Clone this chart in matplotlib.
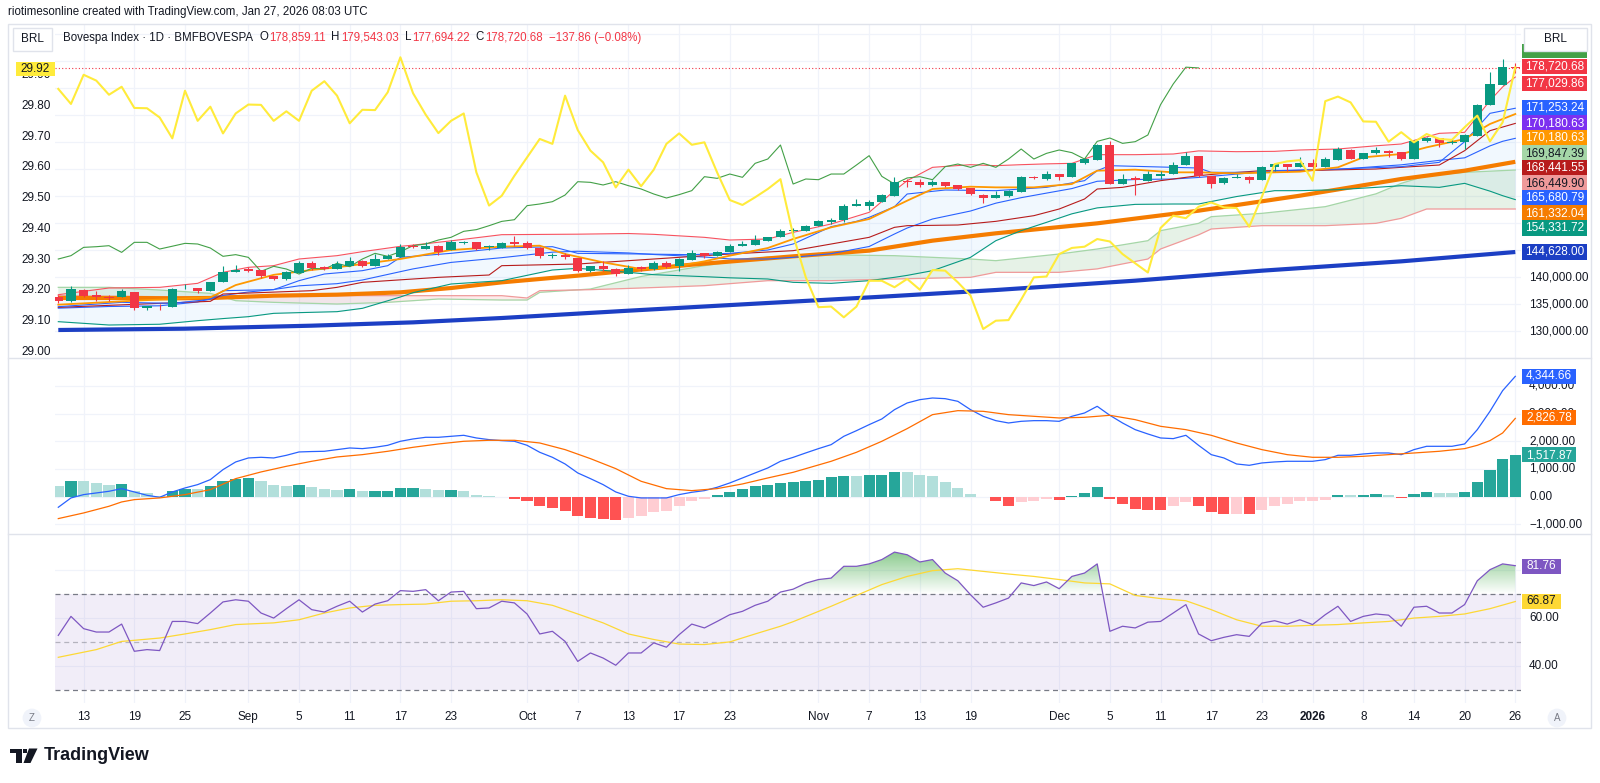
import matplotlib
matplotlib.use("Agg")
import matplotlib.pyplot as plt
import matplotlib.transforms as mtransforms
import numpy as np
import pandas as pd
from matplotlib.colors import LinearSegmentedColormap
from matplotlib.patches import Polygon, Rectangle
from matplotlib.path import Path

W, H = 1600, 783
plt.rcParams["font.family"] = ["Liberation Sans", "DejaVu Sans"]

# ---- dates / ticks -------------------------------------------------------
HOLIDAYS = ["2025-11-20", "2025-12-24", "2025-12-25", "2025-12-31", "2026-01-01"]
DATES = pd.bdate_range("2025-08-11", "2026-01-26").drop(pd.to_datetime(HOLIDAYS))
TICK_DATES = ["2025-08-13", "2025-08-19", "2025-08-25", "2025-09-01", "2025-09-05",
              "2025-09-11", "2025-09-17", "2025-09-23", "2025-10-01", "2025-10-07",
              "2025-10-13", "2025-10-17", "2025-10-23", "2025-11-03", "2025-11-07",
              "2025-11-13", "2025-11-19", "2025-12-01", "2025-12-05", "2025-12-11",
              "2025-12-17", "2025-12-23", "2026-01-02", "2026-01-08", "2026-01-14",
              "2026-01-20", "2026-01-26"]
TICK_LABELS = ["13", "19", "25", "Sep", "5", "11", "17", "23", "Oct", "7", "13", "17",
               "23", "Nov", "7", "13", "19", "Dec", "5", "11", "17", "23", "2026", "8",
               "14", "20", "26"]

# ---- Bovespa daily candles -----------------------------------------------
OPEN = [136360, 135500, 137650, 136720, 136360, 136230, 137280, 134260, 134500, 134380,
        137900, 137900, 137470, 139010, 140860, 141480, 141300, 140250, 139630, 140680,
        142590, 141790, 141480, 142100, 143030, 141980, 143260, 143640, 145700, 145180,
        145800, 144990, 146250, 146420, 145500, 145370, 146420, 146230, 145370, 143830,
        144140, 143450, 141170, 142100, 141480, 140550, 141790, 141480, 142530, 141980,
        143150, 144380, 143830, 144560, 145690, 145980, 146730, 147340, 148580, 148580,
        149500, 150120, 150610, 153210, 153090, 153950, 155060, 157800, 157650, 157040,
        157530, 157040, 156480, 155250, 154630, 155060, 155800, 158460, 158150, 159070,
        158580, 161050, 161670, 164440, 157220, 158270, 157840, 158770, 159070, 160740,
        162400, 158640, 157340, 158270, 158580, 158020, 160430, 160920, 160430, 161050,
        160310, 161670, 163520, 161850, 162900, 163400, 163090, 161850, 165250, 165680,
        164880, 164940, 166170, 171850, 175620, 178859.11]
HIGH = [136720, 138390, 137780, 137340, 136720, 137780, 137280, 134690, 135000, 137960,
        138700, 137900, 139010, 142100, 142280, 141900, 141300, 140250, 141100, 143030,
        143030, 142100, 142900, 143770, 143100, 144260, 144260, 146110, 146200, 146420,
        145900, 146850, 146600, 146420, 146000, 146400, 147650, 146600, 145500, 144400,
        144380, 143450, 142100, 143030, 141700, 142280, 142100, 142900, 143000, 143500,
        145000, 144500, 144900, 146110, 146720, 147840, 147500, 148890, 149080, 149700,
        150550, 150900, 153520, 154450, 154200, 155300, 158450, 158150, 158150, 157900,
        157600, 157100, 156500, 155300, 155990, 156200, 158700, 158700, 159690, 159070,
        161050, 162000, 164600, 165120, 159070, 158770, 159690, 159690, 161230, 163090,
        162500, 158700, 158500, 159070, 158650, 160500, 161000, 161000, 162160, 161850,
        162160, 164130, 163700, 163000, 164130, 163450, 163200, 165300, 165860, 165800,
        165560, 166400, 172000, 177900, 180300, 179543.03]
LOW = [135240, 135400, 136230, 135500, 135500, 136230, 133890, 133890, 133890, 134380,
       137840, 136970, 137470, 139010, 140860, 140860, 139750, 139380, 139380, 140680,
       141360, 141300, 141480, 142100, 141900, 141980, 143260, 143640, 145300, 145180,
       144070, 144990, 146100, 145000, 145000, 145300, 145800, 145100, 143600, 143600,
       143330, 140860, 141000, 141170, 140120, 140550, 141170, 141300, 141600, 141170,
       143150, 143600, 143830, 144560, 145690, 145980, 146700, 147340, 147650, 148580,
       149500, 149900, 150120, 153100, 152400, 153950, 155060, 156600, 156600, 156800,
       156600, 156100, 155200, 153700, 154630, 154800, 155800, 158100, 157960, 157960,
       158580, 161000, 161670, 157220, 157220, 155250, 157840, 158150, 159070, 160740,
       158500, 156480, 157200, 158270, 157340, 158020, 159690, 159690, 160430, 159690,
       160310, 161670, 161800, 161800, 162780, 162280, 161700, 161850, 164940, 164000,
       164630, 163700, 166170, 171850, 175620, 177694.22]
CLOSE = [135500, 137780, 136540, 136230, 136110, 137340, 134200, 134570, 134380, 137780,
         137960, 137340, 139010, 140860, 141300, 141170, 140120, 139630, 140860, 142590,
         141670, 141480, 142400, 143030, 142100, 143330, 143950, 145490, 145610, 145800,
         144560, 146420, 146420, 145180, 145700, 146230, 146110, 145370, 143830, 144140,
         143640, 141050, 141980, 141480, 140550, 141610, 141480, 142530, 141910, 143330,
         144380, 143830, 144690, 145800, 146110, 146850, 147350, 148460, 148770, 149500,
         150300, 150610, 153210, 153520, 153950, 155180, 157650, 157530, 157040, 157650,
         156910, 156300, 155370, 154630, 155250, 155990, 158580, 158270, 159070, 158460,
         161050, 161850, 164440, 157220, 158150, 158020, 159070, 159070, 160740, 162470,
         158640, 157220, 158340, 158580, 158020, 160430, 160920, 160310, 161050, 160310,
         161850, 163700, 161850, 162900, 163520, 163030, 161850, 165120, 165740, 164750,
         165060, 166300, 171910, 175740, 178858.54, 178720.68]

# ---- overlay symbol on the left scale ------------------------------------
LEFT_SERIES = [29.856, 29.807, 29.902, 29.883, 29.837, 29.863, 29.794, 29.793, 29.763, 29.695,
               29.850, 29.752, 29.798, 29.711, 29.776, 29.805, 29.804, 29.752, 29.783, 29.752,
               29.850, 29.881, 29.834, 29.744, 29.788, 29.787, 29.845, 29.959, 29.842, 29.772,
               29.712, 29.752, 29.776, 29.584, 29.476, 29.508, 29.573, 29.633, 29.693, 29.677,
               29.834, 29.722, 29.655, 29.617, 29.535, 29.593, 29.539, 29.593, 29.677, 29.711,
               29.674, 29.682, 29.584, 29.494, 29.478, 29.503, 29.530, 29.562, 29.380, 29.242,
               29.145, 29.147, 29.112, 29.147, 29.231, 29.231, 29.210, 29.237, 29.202, 29.266,
               29.264, 29.226, 29.183, 29.074, 29.101, 29.103, 29.170, 29.242, 29.245, 29.318,
               29.338, 29.342, 29.367, 29.359, 29.318, 29.288, 29.258, 29.403, 29.443, 29.435,
               29.472, 29.486, 29.470, 29.468, 29.407, 29.505, 29.611, 29.620, 29.624, 29.557,
               29.816, 29.831, 29.812, 29.750, 29.749, 29.684, 29.715, 29.682, 29.709, 29.693,
               29.690, 29.731, 29.769, 29.685, 29.747, 29.926]

# ---- moving averages -------------------------------------------------------
SMA200_X = [0, 10, 20, 28, 35, 45, 55, 65, 74, 85, 95, 106, 115]
SMA200 = [130186, 130430, 130985, 131600, 132406, 133760, 135060, 136350, 137590, 139320,
          141170, 142900, 144628]
SMA50_X = [0, 6, 9, 12, 17, 22, 27, 31, 35, 41, 45, 50, 58, 64, 69, 74, 82, 90, 98, 106,
           111, 115]
SMA50 = [136110, 136110, 136050, 136110, 136540, 136730, 137160, 137960, 139010, 140250,
         141170, 142280, 143830, 144880, 146730, 148090, 149940, 152280, 155060, 158150,
         159690, 161332]
EMA_X = [0, 6, 12, 14, 17, 20, 22, 27, 31, 35, 38, 40, 43, 46, 48, 51, 53, 56, 58, 61, 64,
         67, 69, 72, 74, 77, 80, 82, 85, 88, 90, 93, 96, 98, 101, 103, 106, 108, 111, 113, 115]
EMA = [134875, 135612, 136234, 138500, 140400, 141300, 141790, 143333, 145000, 145616,
       145801, 144258, 142715, 141480, 141667, 142900, 143950, 145370, 147030, 149197,
       150740, 154135, 156293, 156725, 156600, 156600, 157222, 159690, 159876, 159382,
       159382, 159196, 159382, 159505, 160308, 162160, 162777, 164012, 165555, 168334,
       170181]

# ---- Bollinger bands -------------------------------------------------------
BB_X = [0, 4, 8, 11, 13, 15, 17, 19, 22, 24, 27, 28, 31, 35, 39, 41, 45, 47, 51, 53, 56, 58,
        61, 64, 66, 67, 69, 72, 74, 76, 78, 80, 82, 85, 88, 90, 93, 96, 98, 101, 104, 106,
        109, 111, 113, 114, 115]
BB_UPPER = [136727, 137962, 138085, 138826, 140863, 141790, 142098, 143333, 143950, 144691,
            145678, 145900, 146700, 147838, 147900, 147930, 148050, 147900, 147344, 146850,
            147035, 148270, 149814, 151975, 155987, 157839, 160309, 160800, 160617, 160800,
            160950, 161049, 162654, 162654, 162777, 163350, 163210, 163271, 163518, 163703,
            164300, 164630, 166605, 166790, 172654, 175200, 177030]
BB_LOWER = [131727, 131110, 131250, 131913, 132300, 132653, 133270, 133400, 133580, 134197,
            136300, 137099, 138704, 139320, 141297, 141605, 140864, 140432, 140062, 139850,
            139630, 139010, 138826, 139320, 139940, 140300, 141170, 143640, 146727, 148580,
            150123, 151700, 152800, 153450, 153518, 153518, 154900, 155987, 155987, 156172,
            156600, 156908, 156600, 157345, 155900, 155060, 154332]
BB_BASIS = [134227, 134536, 134668, 135370, 136582, 137222, 137684, 138367, 138765, 139444,
            140989, 141500, 142702, 143579, 144599, 144768, 144457, 144166, 143703, 143350,
            143333, 143640, 144320, 145648, 147964, 149070, 150740, 152220, 153672, 154690,
            155537, 156375, 157727, 158052, 158148, 158434, 159055, 159629, 159753, 159938,
            160450, 160769, 161603, 162068, 164277, 165130, 165681]

# ---- Ichimoku ----------------------------------------------------------------
TENKAN_X = [0, 5, 9, 12, 13, 17, 19, 21, 24, 26, 27, 31, 35, 39, 41, 46, 50, 53, 56, 58, 61,
            63, 64, 66, 67, 70, 74, 78, 81, 82, 83, 88, 90, 91, 95, 96, 101, 106, 109, 111,
            113, 115]
TENKAN = [134505, 135307, 135122, 135863, 137468, 137653, 139320, 140554, 141172, 142097,
          143641, 144382, 145369, 145616, 144382, 144258, 144135, 144382, 144999, 146110,
          149320, 150308, 151049, 153024, 155370, 156110, 155987, 156604, 157839, 159691,
          160617, 160309, 160185, 159382, 159382, 159691, 159999, 160432, 161234, 165061,
          170308, 171253]
KIJUN_X = [0, 12, 13, 20, 22, 24, 26, 30, 34, 35, 41, 51, 53, 58, 61, 64, 66, 67, 71, 74,
           77, 79, 81, 82, 84, 87, 90, 92, 95, 98, 104, 106, 109, 111, 113, 115]
KIJUN = [134381, 135493, 136851, 137468, 138085, 139011, 139320, 139937, 140369, 142097,
         142406, 143950, 144258, 144876, 146110, 147345, 149197, 149505, 149628, 150308,
         151357, 152592, 154444, 156295, 156604, 157839, 158765, 159197, 159691, 159691,
         159999, 160309, 160740, 163395, 167098, 168442]
CLOUD_X = [0, 4, 8, 12, 14, 17, 22, 26, 30, 35, 37, 38, 42, 46, 51, 56, 61, 66, 72, 74, 79,
           82, 86, 87, 90, 91, 95, 100, 104, 106, 108, 111, 115]
SENKOU_A = [138085, 138085, 137591, 136974, 135616, 135307, 134999, 135307, 135925, 135740,
            135740, 137159, 137777, 140100, 142097, 143700, 144100, 143950, 143332, 143024,
            144258, 145184, 146727, 148579, 149937, 151172, 151789, 153024, 155400, 157345,
            158765, 159382, 159814]
SENKOU_B = [136542, 136450, 136357, 136233, 136542, 136542, 136542, 136542, 136542, 136542,
            136110, 137468, 137653, 137962, 138394, 139320, 139320, 139628, 139937, 140864,
            140864, 141500, 143332, 145184, 147800, 148888, 149505, 149505, 149937, 150864,
            152592, 152592, 152592]
CHIKOU_SHIFT = 25

# ---- MACD ------------------------------------------------------------------
MACD = [-382, -45, 75, 135, 195, 291, 171, 50, -22, 171, 315, 436, 616, 977, 1254, 1398,
        1422, 1398, 1494, 1615, 1630, 1639, 1699, 1759, 1735, 1783, 1855, 2000, 2084, 2144,
        2144, 2180, 2216, 2120, 2060, 2024, 2000, 1855, 1603, 1422, 1181, 857, 652, 436, 171,
        15, -45, -45, -45, 75, 159, 219, 339, 496, 676, 857, 1037, 1278, 1420, 1580, 1735,
        1879, 2180, 2384, 2601, 2806, 3142, 3383, 3503, 3563, 3539, 3443, 3142, 2902, 2745,
        2661, 2721, 2745, 2745, 2721, 2902, 3022, 3263, 2938, 2661, 2420, 2264, 2120, 2096,
        2216, 1855, 1518, 1398, 1181, 1133, 1218, 1254, 1278, 1278, 1278, 1338, 1494, 1494,
        1542, 1578, 1578, 1518, 1699, 1819, 1819, 1819, 1903, 2420, 3082, 3828, 4344.66]
SIGNAL_X = [0, 2, 4, 5, 6, 8, 10, 12, 14, 16, 18, 20, 22, 24, 26, 28, 30, 32, 34, 36, 38, 40,
            42, 44, 46, 48, 50, 52, 54, 56, 58, 61, 63, 65, 67, 69, 71, 73, 75, 77, 79, 81,
            83, 85, 87, 89, 91, 93, 95, 97, 99, 101, 103, 105, 107, 109, 111, 112, 113, 114,
            115]
SIGNAL = [-791, -587, -346, -190, -106, -45, 75, 255, 652, 893, 1097, 1278, 1434, 1518, 1639,
          1783, 1903, 2000, 2036, 2036, 1939, 1699, 1374, 1013, 556, 291, 219, 291, 460, 676,
          880, 1278, 1603, 2000, 2457, 2962, 3106, 3082, 2962, 2902, 2842, 2866, 2938, 2781,
          2541, 2420, 2216, 1939, 1699, 1518, 1422, 1422, 1458, 1518, 1578, 1639, 1735, 1855,
          2024, 2300, 2826.78]
HIST = [375, 556, 556, 496, 436, 460, 219, 135, 15, 195, 291, 291, 400, 556, 652, 660, 556,
        436, 400, 424, 351, 291, 255, 262, 195, 200, 205, 303, 310, 291, 231, 240, 195, 75, 15,
        -15, -70, -165, -350, -405, -503, -707, -767, -803, -828, -767, -683, -563, -503,
        -347, -140, -68, 75, 171, 279, 375, 436, 496, 520, 556, 616, 700, 736, 736, 772, 796,
        893, 893, 796, 736, 532, 315, 99, -22, -166, -322, -190, -142, -82, -106, 15, 135,
        339, -70, -262, -430, -466, -470, -346, -190, -346, -551, -623, -623, -630, -466,
        -346, -262, -166, -166, -106, 50, 50, 75, 99, 75, -46, 97, 180, 144, 130, 180, 541,
        964, 1350, 1517.87]

# ---- RSI -------------------------------------------------------------------
RSI = [52.8, 60.7, 55.6, 54.2, 54.2, 57.5, 46.2, 46.9, 46.5, 58.6, 58.6, 57.7, 62.1, 66.7,
       67.6, 67.0, 62.1, 60.0, 63.9, 67.6, 63.5, 62.5, 64.9, 67.0, 62.5, 65.8, 67.2, 71.4,
       71.1, 71.8, 67.2, 70.8, 71.1, 63.9, 64.2, 67.0, 66.3, 61.7, 53.4, 54.5, 50.3, 42.0,
       45.5, 43.4, 40.4, 45.5, 45.5, 49.7, 47.9, 53.1, 57.5, 55.9, 58.6, 61.4, 62.8, 65.3,
       67.0, 70.8, 72.0, 74.5, 76.0, 76.6, 81.5, 81.5, 82.5, 84.3, 87.4, 86.3, 83.3, 84.3,
       78.7, 75.5, 69.7, 64.5, 66.3, 68.3, 74.6, 73.5, 75.0, 72.2, 77.3, 78.7, 82.5, 54.5,
       56.6, 55.9, 58.3, 58.6, 62.1, 65.6, 53.4, 50.6, 52.0, 53.1, 52.4, 57.9, 58.9, 57.5,
       59.3, 57.3, 61.4, 64.9, 58.6, 60.7, 61.7, 61.2, 56.6, 64.5, 64.9, 62.1, 62.1, 65.6,
       75.5, 80.1, 82.5, 81.76]
RSI_MA_X = [0, 3, 5, 8, 10, 12, 14, 17, 19, 21, 23, 25, 27, 29, 31, 33, 35, 37, 39, 41, 43,
            45, 47, 49, 51, 53, 55, 57, 58, 61, 63, 65, 67, 69, 71, 73, 75, 77, 79, 81, 83,
            85, 87, 89, 91, 93, 95, 97, 99, 101, 103, 105, 107, 109, 111, 113, 115]
RSI_MA = [43.7, 46.9, 50.3, 51.7, 53.4, 55.2, 57.3, 58.0, 59.3, 62.1, 64.2, 65.3, 65.6, 65.8,
          67.0, 67.2, 67.6, 67.2, 65.3, 61.7, 58.0, 53.4, 51.1, 49.2, 49.0, 50.1, 53.4, 56.6,
          58.5, 64.9, 69.4, 73.9, 77.3, 79.7, 80.5, 79.4, 78.3, 77.3, 76.0, 74.6, 74.2, 69.4,
          68.1, 67.2, 63.5, 59.3, 56.6, 56.6, 57.0, 57.3, 58.0, 58.6, 60.0, 60.7, 61.7, 63.9,
          66.87]

# ---- layout ----------------------------------------------------------------
TEXT = "#131722"
GRID = "#f0f3fa"
SEP = "#e0e3eb"
GREEN, RED = "#089981", "#f23645"
PLOT_L, PLOT_R = 55, 1521
MAIN_T, MAIN_B, MACD_B, RSI_B = 24, 358, 534, 703
XLIM = (-0.26, 115.45)
FS = 8.5


def fx(px):
    return px / W


def fy(py):
    return 1 - py / H


fig = plt.figure(figsize=(W / 100, H / 100), dpi=100)
fig.patch.set_facecolor("white")
renderer = fig.canvas.get_renderer()
x = np.arange(len(DATES))
tick_idx = [DATES.get_loc(pd.Timestamp(d)) for d in TICK_DATES]


def pane(bottom, top, ylim, yticks):
    ax = fig.add_axes([fx(PLOT_L), fy(bottom), (PLOT_R - PLOT_L) / W, (bottom - top) / H])
    ax.set_facecolor("none")
    for spine in ax.spines.values():
        spine.set_visible(False)
    ax.tick_params(length=0, labelbottom=False, labelleft=False)
    ax.set_xlim(*XLIM)
    ax.set_ylim(*ylim)
    ax.set_xticks(tick_idx)
    ax.set_yticks(yticks)
    ax.grid(True, color=GRID, lw=0.9)
    ax.set_axisbelow(True)
    return ax


def fig_rect(x0, y0, x1, y1, fc, ec="none", lw=0.0, z=10):
    fig.patches.append(Rectangle((fx(x0), fy(y1)), (x1 - x0) / W, (y1 - y0) / H,
                                 transform=fig.transFigure, fc=fc, ec=ec, lw=lw, zorder=z))


def value_label(y, text, fc, tc="white", x0=1522, x1=1587):
    fig_rect(x0, y - 7.5, x1, y + 7.5, fc, z=20)
    fig.text(fx((x0 + x1) / 2), fy(y), text, ha="center", va="center", fontsize=FS,
             color=tc, zorder=21)


# ---- main price pane -------------------------------------------------------
ax = pane(MAIN_B, MAIN_T, (125000, 186853), np.arange(125000, 190000, 5000))
ax.fill_between(BB_X, BB_LOWER, BB_UPPER, color="#2196f3", alpha=0.06, lw=0, zorder=1)
sa, sb = np.array(SENKOU_A), np.array(SENKOU_B)
ax.fill_between(CLOUD_X, sa, sb, where=sa >= sb, interpolate=True, color="#43a047",
                alpha=0.13, lw=0, zorder=1)
ax.fill_between(CLOUD_X, sa, sb, where=sa < sb, interpolate=True, color="#f44336",
                alpha=0.10, lw=0, zorder=1)
ax.plot(CLOUD_X, SENKOU_A, color="#a5d6a7", lw=0.9, zorder=2)
ax.plot(CLOUD_X, SENKOU_B, color="#ef9a9a", lw=0.9, zorder=2)
ax.plot(SMA200_X, SMA200, color="#1c3fc4", lw=3.0, zorder=3, solid_capstyle="butt")
ax.plot(SMA50_X, SMA50, color="#f57c00", lw=3.0, zorder=3, solid_capstyle="butt")
ax.plot(BB_X, BB_LOWER, color=GREEN, lw=0.8, zorder=3)
ax.plot(BB_X, BB_UPPER, color="#f7525f", lw=0.8, zorder=3)
ax.plot(BB_X, BB_BASIS, color="#2962ff", lw=0.8, zorder=3)
ax.plot(KIJUN_X, KIJUN, color="#b71c1c", lw=0.8, zorder=3)
ax.plot(TENKAN_X, TENKAN, color="#2962ff", lw=0.8, zorder=3)
ax.plot(EMA_X, EMA, color="#ff9800", lw=1.3, zorder=3)
close = np.array(CLOSE)
ax.plot(x[CHIKOU_SHIFT:] - CHIKOU_SHIFT, close[CHIKOU_SHIFT:], color="#43a047", lw=0.8,
        zorder=3)

o, h, l = np.array(OPEN), np.array(HIGH), np.array(LOW)
col = np.where(close >= o, GREEN, RED)
ax.vlines(x, l, h, colors=col, lw=0.8, zorder=5)
ax.bar(x, np.maximum(np.abs(close - o), 130), bottom=np.minimum(o, close), width=0.72,
       color=col, lw=0, zorder=6)
ax.axhline(CLOSE[-1], color=RED, lw=0.8, ls=(0, (1, 2)), zorder=4)

axl = fig.add_axes(ax.get_position())
axl.set_facecolor("none")
axl.axis("off")
axl.set_xlim(*XLIM)
axl.set_ylim(28.9795, 30.0674)
axl.plot(x, LEFT_SERIES, color="#ffeb3b", lw=1.5, zorder=7)

# left scale labels
left_tr = mtransforms.blended_transform_factory(fig.transFigure, axl.transData)
for v in np.arange(29.0, 29.95, 0.1):
    fig.text(fx(21), v, f"{v:.2f}", transform=left_tr, va="center", ha="left",
             fontsize=FS, color=TEXT)
fig_rect(16, 61.5, 55, 75.5, "#ffeb3b", z=20)
fig.text(fx(35.5), fy(68.5), "29.92", ha="center", va="center", fontsize=FS, color=TEXT,
         zorder=21)

# right scale ticks
main_tr = mtransforms.blended_transform_factory(fig.transFigure, ax.transData)
for v in (140000, 135000, 130000):
    fig.text(fx(1529), v, f"{v:,.2f}", transform=main_tr, va="center", fontsize=FS,
             color=TEXT)
fig_rect(1522, 44, 1587, 58, "#43a047", z=20)
for y, txt, fc, tc in [
    (66.7, "178,720.68", RED, "white"), (83.3, "177,029.86", RED, "white"),
    (108, "171,253.24", "#2962ff", "white"), (123, "170,180.63", "#7c30f0", "white"),
    (138, "170,180.63", "#ff9800", "white"), (153, "169,847.39", "#a5d6a7", TEXT),
    (168, "168,441.55", "#b71c1c", "white"), (183, "166,449.90", "#ef9a9a", TEXT),
    (198, "165,680.79", "#2962ff", "white"), (213, "161,332.04", "#f57c00", "white"),
    (228, "154,331.72", GREEN, "white"), (252, "144,628.00", "#1c3fc4", "white"),
]:
    value_label(y, txt, fc, tc)

# ---- MACD pane ---------------------------------------------------------------
axm = pane(MACD_B, MAIN_B, (-1347, 5007), np.arange(-1000, 5000, 1000))
hist = np.array(HIST)
prev = np.r_[hist[0], hist[:-1]]
hcol = np.where(hist >= 0, np.where(hist > prev, "#26a69a", "#b2dfdb"),
                np.where(hist < prev, "#ff5252", "#ffcdd2"))
axm.bar(x, hist, width=0.88, color=hcol, lw=0, zorder=2)
axm.plot(x, MACD, color="#2962ff", lw=0.9, zorder=3)
axm.plot(SIGNAL_X, SIGNAL, color="#ff6d00", lw=0.9, zorder=3)
macd_tr = mtransforms.blended_transform_factory(fig.transFigure, axm.transData)
for v in range(4000, -2000, -1000):
    txt = f"{v:,.2f}".replace("-", "\u2212")
    fig.text(fx(1529), v, txt, transform=macd_tr, va="center", fontsize=FS, color=TEXT)
value_label(376, "4,344.66", "#2962ff", x1=1576)
value_label(418, "2,826.78", "#ff6d00", x1=1576)
value_label(455, "1,517.87", "#26a69a", x1=1576)

# ---- RSI pane --------------------------------------------------------------
axr = pane(RSI_B, MACD_B, (24.72, 94.92), [20, 40, 60, 80])
axr.axhspan(30, 70, color="#7e57c2", alpha=0.1, lw=0, zorder=1)
for lvl, a in ((70, 1.0), (50, 0.5), (30, 1.0)):
    axr.axhline(lvl, color="#787b86", lw=0.9, alpha=a, dashes=(4, 3), zorder=2)
rsi = np.array(RSI)
ob = axr.fill_between(x, 70, rsi, where=rsi > 70, interpolate=True, color="none", lw=0)
clip = Path.make_compound_path(*ob.get_paths())
cmap = LinearSegmentedColormap.from_list(
    "ob", [(0.298, 0.686, 0.314, 0.0), (0.298, 0.686, 0.314, 0.75)])
grad = axr.imshow(np.linspace(0, 1, 256).reshape(-1, 1), extent=[XLIM[0], XLIM[1], 70, 90],
                  origin="lower", cmap=cmap, aspect="auto", zorder=2)
grad.set_clip_path(clip, transform=axr.transData)
axr.set_xlim(*XLIM)
axr.set_ylim(24.72, 94.92)
axr.plot(RSI_MA_X, RSI_MA, color="#fdd835", lw=0.9, zorder=3)
axr.plot(x, RSI, color="#7e57c2", lw=0.9, zorder=4)
rsi_tr = mtransforms.blended_transform_factory(fig.transFigure, axr.transData)
for v in (60, 40):
    fig.text(fx(1529), v, f"{v:.2f}", transform=rsi_tr, va="center", fontsize=FS, color=TEXT)
value_label(566, "81.76", "#7e57c2", x1=1561)
value_label(601, "66.87", "#fdd835", TEXT, x1=1561)

# ---- time axis ---------------------------------------------------------------
time_tr = mtransforms.blended_transform_factory(axr.transData, fig.transFigure)
for idx, lab in zip(tick_idx, TICK_LABELS):
    fig.text(idx, fy(717), lab, transform=time_tr, ha="center", va="center", fontsize=FS,
             color=TEXT, fontweight="bold" if lab == "2026" else "normal")
for px, lab in ((32, "Z"), (1557, "A")):
    fig.text(fx(px), fy(718), lab, ha="center", va="center", fontsize=7, color="#787b86",
             bbox=dict(boxstyle="circle,pad=0.45", fc="#f0f3fa", ec="none"))

# ---- frame, separators, headers -------------------------------------------------
fig.patches.append(Rectangle((fx(8), fy(728)), (1591 - 8) / W, (728 - 24) / H,
                             transform=fig.transFigure, fc="none", ec=SEP, lw=1.0, zorder=30))
for y in (MAIN_B, MACD_B):
    fig.add_artist(plt.Line2D([fx(8), fx(1591)], [fy(y), fy(y)], color=SEP, lw=1.0,
                              transform=fig.transFigure, zorder=30))
fig.text(fx(8), fy(12), "riotimesonline created with TradingView.com, Jan 27, 2026 08:03 UTC",
         va="center", fontsize=8.3, color=TEXT)
for x0, x1 in ((13, 52), (1524, 1587)):
    fig_rect(x0, 28, x1, 51, "white", ec=SEP, lw=1.0, z=25)
    fig.text(fx((x0 + x1) / 2), fy(39.5), "BRL", ha="center", va="center", fontsize=FS,
             color=TEXT, zorder=26)

# legend line: pieces placed one after another
cursor = 63
for txt, c, gap in [
    ("Bovespa Index \u00b7 1D \u00b7 BMFBOVESPA", TEXT, 6), ("O", TEXT, 1),
    ("178,859.11", RED, 6), ("H", TEXT, 1), ("179,543.03", RED, 6), ("L", TEXT, 1),
    ("177,694.22", RED, 6), ("C", TEXT, 1), ("178,720.68", RED, 6),
    ("\u2212137.86 (\u22120.08%)", RED, 0),
]:
    t = fig.text(fx(cursor), fy(37.5), txt, va="center", ha="left", fontsize=8.3, color=c,
                 zorder=26)
    cursor = t.get_window_extent(renderer).x1 + gap


# TradingView wordmark
def fig_poly(pts, fc):
    fig.patches.append(Polygon([(fx(a), fy(b)) for a, b in pts], closed=True,
                               transform=fig.transFigure, fc=fc, ec="none"))


fig_poly([(10, 748.5), (21.5, 748.5), (21.5, 763), (15.5, 763), (15.5, 753), (10, 753)], TEXT)
fig_poly([(22.5, 748.5), (26.5, 748.5), (26.5, 752.5), (22.5, 752.5)], TEXT)
fig_poly([(29, 748.5), (37.5, 748.5), (30.5, 763), (23.5, 763)], TEXT)
fig.text(fx(44), fy(756), "TradingView", va="center", ha="left", fontsize=13,
         fontweight="bold", color=TEXT)

fig.savefig("out.png", dpi=100, facecolor="white")
